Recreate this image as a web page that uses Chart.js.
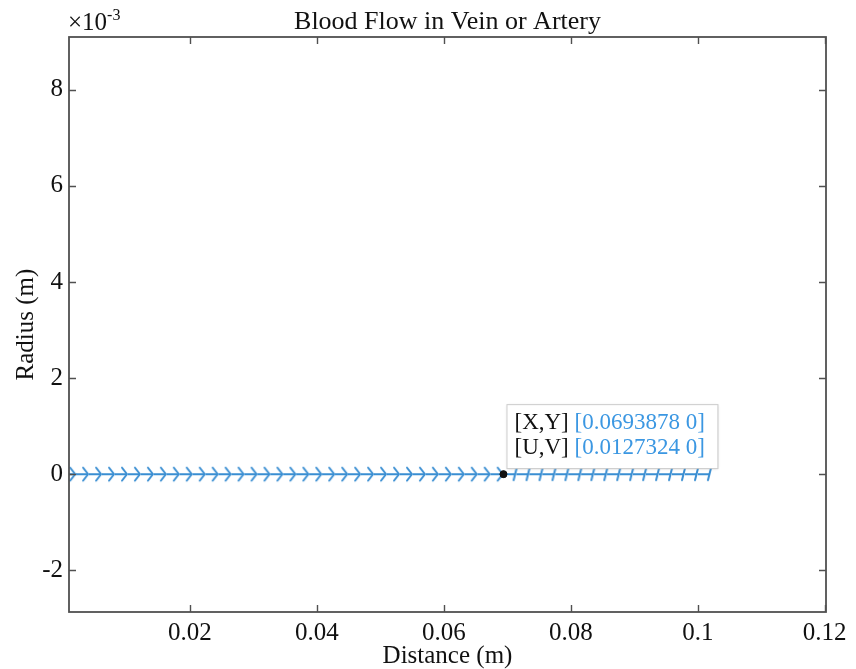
<!DOCTYPE html>
<html>
<head>
<meta charset="utf-8">
<script src="https://cdn.jsdelivr.net/npm/chart.js@4.4.1/dist/chart.umd.min.js"></script>
<style>
html,body{margin:0;padding:0;background:#fff;}
#wrap{width:856px;height:669px;position:relative;}
</style>
</head>
<body>
<div id="wrap"><canvas id="c" width="856" height="669"></canvas></div>
<script>
// ---- data ----
const xPositions = [0, 0.0020408, 0.0040816, 0.0061224, 0.0081633, 0.0102041, 0.0122449, 0.0142857, 0.0163265, 0.0183673,
  0.0204082, 0.0224490, 0.0244898, 0.0265306, 0.0285714, 0.0306122, 0.0326531, 0.0346939, 0.0367347, 0.0387755,
  0.0408163, 0.0428571, 0.0448980, 0.0469388, 0.0489796, 0.0510204, 0.0530612, 0.0551020, 0.0571429, 0.0591837,
  0.0612245, 0.0632653, 0.0653061, 0.0673469, 0.0693878, 0.0714286, 0.0734694, 0.0755102, 0.0775510, 0.0795918,
  0.0816327, 0.0836735, 0.0857143, 0.0877551, 0.0897959, 0.0918367, 0.0938776, 0.0959184, 0.0979592, 0.1];
const yPositions = [0,0,0,0,0,0,0,0,0,0, 0,0,0,0,0,0,0,0,0,0, 0,0,0,0,0,0,0,0,0,0, 0,0,0,0,0,0,0,0,0,0, 0,0,0,0,0,0,0,0,0,0];
const uVelocity = [0.0127324,0.0127324,0.0127324,0.0127324,0.0127324,0.0127324,0.0127324,0.0127324,0.0127324,0.0127324,
  0.0127324,0.0127324,0.0127324,0.0127324,0.0127324,0.0127324,0.0127324,0.0127324,0.0127324,0.0127324,
  0.0127324,0.0127324,0.0127324,0.0127324,0.0127324,0.0127324,0.0127324,0.0127324,0.0127324,0.0127324,
  0.0127324,0.0127324,0.0127324,0.0127324,0.0127324,0.0127324,0.0127324,0.0127324,0.0127324,0.0127324,
  0.0127324,0.0127324,0.0127324,0.0127324,0.0127324,0.0127324,0.0127324,0.0127324,0.0127324,0.0127324];
const vVelocity = [0,0,0,0,0,0,0,0,0,0, 0,0,0,0,0,0,0,0,0,0, 0,0,0,0,0,0,0,0,0,0, 0,0,0,0,0,0,0,0,0,0, 0,0,0,0,0,0,0,0,0,0];
const xTicks = [0.02, 0.04, 0.06, 0.08, 0.1, 0.12];
const yTicks = [-2, 0, 2, 4, 6, 8];          // in units of 10^-3 m
const datatipIndex = 34;
const titleText = 'Blood Flow in Vein or Artery';
const xTitle = 'Distance (m)';
const yTitle = 'Radius (m)';

// ---- style ----
const SERIF = '"Liberation Serif", "DejaVu Serif", serif';
const BLUE = '#3a8ed2';
const AXIS = '#505050';
const ARROW_SCALE = 0.15;

function makeHead(kind) {
  const c = document.createElement('canvas');
  c.width = 16; c.height = 18;
  const g = c.getContext('2d');
  g.strokeStyle = BLUE; g.lineWidth = 2; g.lineCap = 'round'; g.lineJoin = 'round';
  g.beginPath();
  if (kind === 'chev') {
    g.moveTo(3, 2.5); g.lineTo(8, 9); g.lineTo(3, 15.5);
  } else {
    g.moveTo(9, 3); g.lineTo(6, 15);
  }
  g.stroke();
  return c;
}
const chevImg = makeHead('chev');
const slashImg = makeHead('slash');

const shaftData = [];
const headData = [];
const headStyles = [];
for (let i = 0; i < xPositions.length; i++) {
  const tipX = xPositions[i] + uVelocity[i] * ARROW_SCALE;
  const tipY = yPositions[i] + vVelocity[i] * ARROW_SCALE;
  shaftData.push({x: xPositions[i], y: yPositions[i]});
  shaftData.push({x: tipX, y: tipY});
  shaftData.push({x: tipX, y: NaN});
  headData.push({x: tipX, y: tipY});
  headStyles.push(i < datatipIndex ? chevImg : slashImg);
}

const frame = {
  id: 'frame',
  afterDatasetsDraw(chart) {
    const {ctx, chartArea: a, scales: {x, y}} = chart;
    ctx.save();
    ctx.strokeStyle = AXIS; ctx.lineWidth = 1.8;
    ctx.strokeRect(a.left, a.top, a.right - a.left, a.bottom - a.top);
    ctx.lineWidth = 1.4;
    const L = 7;
    ctx.beginPath();
    xTicks.forEach(v => {
      const p = Math.round(x.getPixelForValue(v)) + 0.5;
      ctx.moveTo(p, a.bottom); ctx.lineTo(p, a.bottom - L);
      ctx.moveTo(p, a.top); ctx.lineTo(p, a.top + L);
    });
    yTicks.forEach(v => {
      const p = Math.round(y.getPixelForValue(v)) + 0.5;
      ctx.moveTo(a.left, p); ctx.lineTo(a.left + L, p);
      ctx.moveTo(a.right, p); ctx.lineTo(a.right - L, p);
    });
    ctx.stroke();
    // title, centred over the plot box
    ctx.fillStyle = '#111';
    ctx.textAlign = 'center';
    ctx.textBaseline = 'alphabetic';
    ctx.font = '26px ' + SERIF;
    ctx.fillText(titleText, (a.left + a.right) / 2, 29);
    // exponent label
    ctx.textAlign = 'left';
    ctx.font = '25px ' + SERIF;
    ctx.fillText('\u00d710', a.left - 1, 30);
    const w = ctx.measureText('\u00d710').width;
    ctx.font = '16px ' + SERIF;
    ctx.fillText('-3', a.left - 1 + w, 20);
    // datatip
    const px = x.getPixelForValue(xPositions[datatipIndex]);
    const py = y.getPixelForValue(yPositions[datatipIndex]);
    const bx = px + 3, by = py - 70, bw = 211, bh = 64;
    ctx.shadowColor = 'rgba(0,0,0,0.2)'; ctx.shadowBlur = 3; ctx.shadowOffsetX = 1; ctx.shadowOffsetY = 1;
    ctx.fillStyle = '#ffffff';
    ctx.fillRect(bx, by, bw, bh);
    ctx.shadowColor = 'transparent';
    ctx.strokeStyle = '#cccccc'; ctx.lineWidth = 1;
    ctx.strokeRect(bx + 0.5, by + 0.5, bw, bh);
    ctx.font = '23px ' + SERIF;
    ctx.textBaseline = 'middle';
    const lines = [
      ['[X,Y] ', '[' + xPositions[datatipIndex] + ' ' + yPositions[datatipIndex] + ']'],
      ['[U,V] ', '[' + uVelocity[datatipIndex] + ' ' + vVelocity[datatipIndex] + ']']
    ];
    lines.forEach((ln, k) => {
      const ty = by + 19 + k * 25;
      ctx.fillStyle = '#111';
      ctx.fillText(ln[0], bx + 8, ty);
      const lw = ctx.measureText(ln[0]).width;
      ctx.fillStyle = '#3b97e2';
      ctx.fillText(ln[1], bx + 8 + lw, ty);
    });
    // datatip marker on top
    ctx.beginPath();
    ctx.arc(px, py, 3.5, 0, Math.PI * 2);
    ctx.fillStyle = '#111'; ctx.fill();
    ctx.restore();
  }
};

new Chart(document.getElementById('c'), {
  type: 'scatter',
  data: {
    datasets: [
      {
        type: 'line', data: shaftData, borderColor: BLUE, borderWidth: 2,
        pointRadius: 0, spanGaps: false, tension: 0, order: 2
      },
      {
        type: 'scatter', data: headData, pointStyle: headStyles, pointRadius: 6, order: 1
      },
      {
        type: 'scatter', data: [{x: xPositions[datatipIndex], y: yPositions[datatipIndex]}],
        pointRadius: 3.5, backgroundColor: '#111', borderColor: '#111', order: 0
      }
    ]
  },
  options: {
    responsive: false,
    animation: false,
    events: [],
    layout: {padding: {left: 0, right: 30, top: 37, bottom: 0}},
    plugins: {
      legend: {display: false},
      tooltip: {enabled: false},
      title: {display: false}
    },
    scales: {
      x: {
        type: 'linear', min: 0.00094, max: 0.1202,
        grid: {display: false, drawTicks: false},
        border: {display: false},
        afterBuildTicks: s => { s.ticks = xTicks.map(v => ({value: v})); },
        afterFit: s => { s.height = 57; },
        ticks: {
          color: '#111', padding: 6, maxRotation: 0, autoSkip: false,
          font: {family: SERIF, size: 25},
          callback: v => String(v)
        },
        title: {
          display: true, text: xTitle, color: '#111',
          font: {family: SERIF, size: 25, lineHeight: 1.0},
          padding: {top: 0, bottom: 0}
        }
      },
      y: {
        type: 'linear', min: -2.87, max: 9.1,
        grid: {display: false, drawTicks: false},
        border: {display: false},
        afterBuildTicks: s => { s.ticks = yTicks.map(v => ({value: v})); },
        afterFit: s => { s.width = 69; },
        ticks: {
          color: '#111', padding: 6, autoSkip: false,
          font: {family: SERIF, size: 25},
          callback: v => String(v)
        },
        title: {
          display: true, text: yTitle, color: '#111',
          font: {family: SERIF, size: 25, lineHeight: 1.0},
          padding: {top: 14, bottom: 14}
        }
      }
    }
  },
  plugins: [frame]
});
</script>
</body>
</html>
